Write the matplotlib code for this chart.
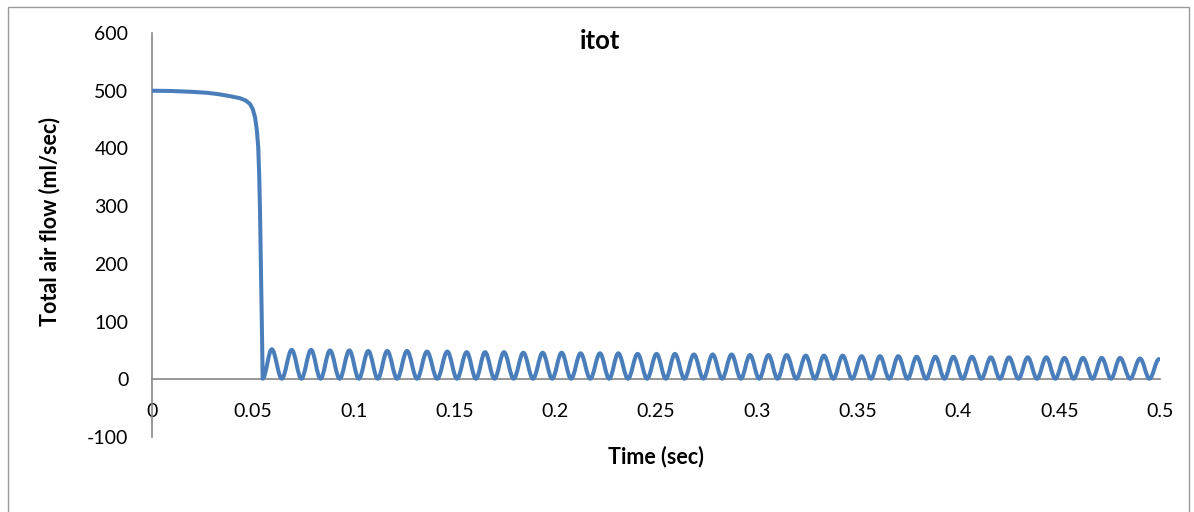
import matplotlib
matplotlib.use("Agg")
import matplotlib.pyplot as plt
from matplotlib.path import Path
from matplotlib.patches import PathPatch, Rectangle

# ---------------- data ----------------
title = "itot"
x_label = "Time (sec)"
y_label = "Total air flow (ml/sec)"

x_ticks = [0, 0.05, 0.1, 0.15, 0.2, 0.25, 0.3, 0.35, 0.4, 0.45, 0.5]
x_tick_labels = ["0", "0.05", "0.1", "0.15", "0.2", "0.25", "0.3", "0.35", "0.4", "0.45", "0.5"]
y_ticks = [-100, 0, 100, 200, 300, 400, 500, 600]
y_tick_labels = ["-100", "0", "100", "200", "300", "400", "500", "600"]

# plateau and collapse before the oscillations
pre_time = [0.0, 0.010, 0.020, 0.027, 0.033, 0.038, 0.0437, 0.0465, 0.0486, 0.0500,
            0.0511, 0.0520, 0.0527, 0.0532, 0.0536, 0.0540, 0.0544, 0.0549]
pre_flow = [500, 499.5, 498, 496.5, 494, 491, 487, 483, 477, 468,
            454, 432, 402, 350, 287, 200, 114, 1]

# oscillation maxima
peak_time = [0.0594, 0.0693, 0.0789, 0.0883, 0.0979, 0.1073, 0.1167, 0.1265, 0.1364, 0.1465,
             0.1561, 0.1652, 0.1746, 0.1842, 0.1938, 0.2032, 0.2126, 0.2222, 0.2313, 0.2409,
             0.2503, 0.2594, 0.2688, 0.2781, 0.2875, 0.2966, 0.3058, 0.3148, 0.3243, 0.3333,
             0.3426, 0.3520, 0.3611, 0.3702, 0.3793, 0.3886, 0.3975, 0.4067, 0.4161, 0.4251,
             0.4344, 0.4436, 0.4526, 0.4618, 0.4711, 0.4802, 0.4901]
peak_flow = [52, 51, 51, 50, 50, 49, 49, 49, 48, 48,
             47, 47, 47, 46, 46, 46, 45, 45, 45, 44,
             44, 44, 43, 43, 43, 42, 42, 42, 41, 41,
             41, 40, 40, 40, 39, 39, 39, 39, 38, 38,
             38, 38, 37, 37, 37, 37, 36]

# oscillation minima (after each peak)
trough_time = [0.0644, 0.0741, 0.0836, 0.0931, 0.1026, 0.1120, 0.1216, 0.1315, 0.1415, 0.1513,
               0.1607, 0.1699, 0.1794, 0.1890, 0.1985, 0.2079, 0.2174, 0.2268, 0.2361, 0.2456,
               0.2549, 0.2641, 0.2735, 0.2828, 0.2921, 0.3012, 0.3103, 0.3196, 0.3288, 0.3380,
               0.3473, 0.3566, 0.3657, 0.3748, 0.3840, 0.3931, 0.4021, 0.4114, 0.4206, 0.4298,
               0.4390, 0.4481, 0.4572, 0.4665, 0.4757, 0.4852, 0.4948]
trough_flow = [1, 1, 1, 1, 1, 1, 1, 1, 1, 1,
               1, 1, 1, 1, 1, 1, 1, 1, 1, 1,
               1, 1, 1, 1, 1, 1, 1, 1, 1, 1,
               1, 1, 1, 1, 1, 1, 1, 1, 1, 1,
               1, 1, 1, 1, 1, 1, 1]

end_time = 0.4995
end_flow = 35

# ---------------- style ----------------
LINE_COLOR = "#4A7EBB"
AXIS_COLOR = "#868686"
FONT = ["Lato", "DejaVu Sans"]
plt.rcParams["font.family"] = FONT

W, H = 1194, 512
fig = plt.figure(figsize=(W / 100, H / 100), dpi=100)
fig.patch.set_facecolor("white")

# axes box in pixels: x 152..1160, y 33..437
ax = fig.add_axes([152 / W, 1 - 437 / H, 1008 / W, 404 / H])
ax.set_xlim(0, 0.5)
ax.set_ylim(-100, 600)

# build the curve: straight segments for the plateau/collapse,
# smooth cubic segments between successive extrema of the oscillation
verts = [(t, v) for t, v in zip(pre_time, pre_flow)]
codes = [Path.MOVETO] + [Path.LINETO] * (len(pre_time) - 1)

ext_t = [pre_time[-1]]
ext_v = [pre_flow[-1]]
for pt, pv, tt, tv in zip(peak_time, peak_flow, trough_time, trough_flow):
    ext_t += [pt, tt]
    ext_v += [pv, tv]
ext_t.append(end_time)
ext_v.append(end_flow)

k = 0.36
for i in range(1, len(ext_t)):
    t0, v0 = ext_t[i - 1], ext_v[i - 1]
    t1, v1 = ext_t[i], ext_v[i]
    dt = t1 - t0
    verts += [(t0 + k * dt, v0), (t1 - k * dt, v1), (t1, v1)]
    codes += [Path.CURVE4] * 3

patch = PathPatch(Path(verts, codes), facecolor="none", edgecolor=LINE_COLOR,
                  lw=2.9, capstyle="round", joinstyle="round", zorder=3)
ax.add_patch(patch)

# axes look (Excel style)
for s in ["top", "right"]:
    ax.spines[s].set_visible(False)
ax.spines["bottom"].set_position(("data", 0))
ax.spines["left"].set_position(("data", 0))
for s in ["bottom", "left"]:
    ax.spines[s].set_color(AXIS_COLOR)
    ax.spines[s].set_linewidth(1.2)
    ax.spines[s].set_zorder(2)

ax.set_xticks(x_ticks)
ax.set_xticklabels(x_tick_labels)
ax.set_yticks(y_ticks)
ax.set_yticklabels(y_tick_labels)
ax.tick_params(axis="both", length=0, labelsize=14, colors="black")
ax.tick_params(axis="x", pad=17)
ax.tick_params(axis="y", pad=17)
ax.set_facecolor("none")

# titles
fig.text(600 / W, 1 - 41 / H, title, ha="center", va="center",
         fontsize=18.5, fontweight="bold")
fig.text(656 / W, 1 - 457 / H, x_label, ha="center", va="center",
         fontsize=15.5, fontweight="bold")
fig.text(50 / W, 1 - 222 / H, y_label, ha="center", va="center",
         rotation=90, fontsize=15.5, fontweight="bold")

# chart-area border (bottom edge lies just outside the picture)
fig.add_artist(Rectangle((7.5 / W, 1 - 520 / H), 1181 / W, 513 / H,
                         transform=fig.transFigure, fill=False,
                         edgecolor="#9a9a9a", lw=1.0))

fig.savefig("out.png", dpi=100, facecolor="white")
